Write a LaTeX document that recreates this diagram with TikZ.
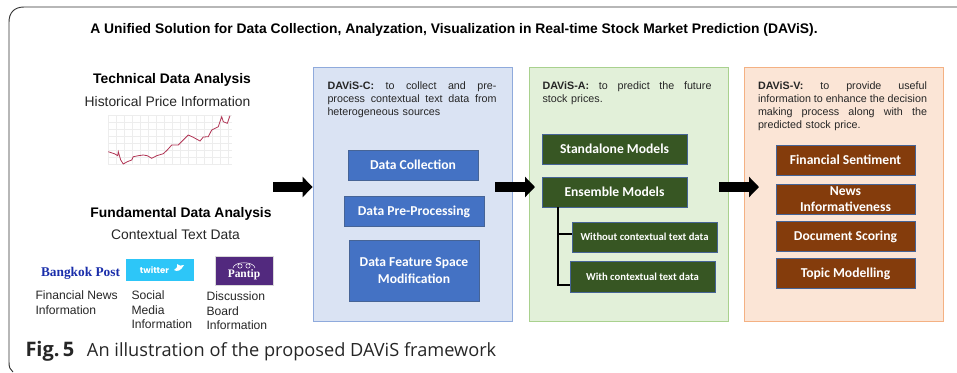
\documentclass[tikz,border=0pt]{standalone}
\usepackage{fontspec}
\setmainfont{Liberation Sans}
\newfontfamily\boxfont{Carlito}
\newfontfamily\capfont{Open Sans}
\newfontfamily\logofont{Liberation Serif}
\newfontfamily\tweetfont{Poppins}
\usetikzlibrary{arrows.meta}

\definecolor{panelCfill}{RGB}{218,227,243}
\definecolor{panelCline}{RGB}{143,170,220}
\definecolor{panelAfill}{RGB}{226,240,217}
\definecolor{panelAline}{RGB}{169,209,142}
\definecolor{panelVfill}{RGB}{251,229,214}
\definecolor{panelVline}{RGB}{244,177,131}
\definecolor{boxblue}{RGB}{68,114,196}
\definecolor{boxgreen}{RGB}{55,86,35}
\definecolor{boxbrown}{RGB}{132,60,12}
\definecolor{boxline}{RGB}{70,100,150}
\definecolor{twitterblue}{RGB}{45,198,248}
\definecolor{pantippurple}{RGB}{82,41,126}
\definecolor{postblue}{RGB}{25,45,170}
\definecolor{chartred}{RGB}{176,52,84}

\newcommand{\jline}[1]{\leavevmode\hbox to 126.75pt{\spaceskip=0pt\xspaceskip=0pt #1}}

\tikzset{every picture/.style={line width=0.75pt}}
\tikzset{
  boxsize/.style 2 args={minimum width=#1*0.75pt,minimum height=#2*0.75pt,inner sep=0pt},
  panel/.style={draw=#1line,fill=#1fill,line width=0.65pt},
  stepbox/.style={draw=boxline,fill=#1,text=white,line width=0.6pt,align=center,text depth=0pt,
    font=\boxfont\bfseries\fontsize{10.2}{12.6}\selectfont},
  smallbox/.style={stepbox=boxgreen,font=\boxfont\bfseries\fontsize{8}{10}\selectfont},
  paneltext/.style={anchor=north west,inner sep=0pt,text width=127pt,align=left,
    text=black!85,font=\fontsize{8.05}{9.75}\selectfont},
  headtext/.style={inner sep=0pt,font=\bfseries\fontsize{10.4}{12}\selectfont},
  subtext/.style={inner sep=0pt,text=black!85,font=\fontsize{10.4}{12}\selectfont},
  sourcetext/.style={anchor=north west,inner sep=0pt,align=left,text=black!85,
    font=\fontsize{9.1}{11.1}\selectfont},
  blockarrow/.style={line width=7.5pt,-{Triangle[length=7.5pt,width=15pt]}},
  branchline/.style={line width=1.4pt,black},
}

\begin{document}
\begin{tikzpicture}[x=0.75pt,y=0.75pt,yscale=-1,xscale=1]
\useasboundingbox (0,0) rectangle (957,372);

%Outer frame
\draw [black!80,line width=0.7pt] (957,7) -- (24,7) .. controls (14,7) and (9,13) .. (9,22) -- (9,362) .. controls (9,367) and (10,370) .. (13,372) ;

% Text Node
\node (title) [inner sep=0pt,font=\bfseries\fontsize{10.4}{12}\selectfont] at (454,30) {A Unified Solution for Data Collection, Analyzation, Visualization in Real-time Stock Market Prediction (DAViS).};

% Text Node
\node (technical) [headtext] at (172,79.5) {Technical Data Analysis};
\node (historical) [subtext] at (167.5,102) {Historical Price Information};
\node (fundamental) [headtext] at (181,213.5) {Fundamental Data Analysis};
\node (contextual) [subtext] at (175.5,235) {Contextual Text Data};

%Price chart
\foreach \gx in {108,116,...,232}
  \draw [black!7,line width=0.3pt] (\gx,115) -- (\gx,164) ;
\foreach \gy in {115,122,...,164}
  \draw [black!7,line width=0.3pt] (108,\gy) -- (232,\gy) ;
\draw [chartred,line width=0.6pt] (108.3,151.7) -- (115,154) -- (117.7,155.7) -- (118.3,151.7) -- (120.7,160) -- (123.3,164) -- (127.3,161.7) -- (131.7,160) -- (133.3,156.7) -- (138.3,155.7) -- (143.3,155) -- (147.3,155.7) -- (151.7,158.3) -- (156.7,155.7) -- (163.3,153.7) -- (167.3,150) -- (171.7,145) -- (178.3,145) -- (183.3,140) -- (188.3,135) -- (193.3,137.3) -- (200,141) -- (203.3,137) -- (208.3,136.7) -- (211.7,130) -- (218.3,126.7) -- (221.7,116.7) -- (223.3,121.7) -- (227.3,123.3) -- (230,115.7) ;

%Source logos
\node (bangkok) [inner sep=0pt,text=postblue,font=\logofont\bfseries\fontsize{10}{12}\selectfont] at (80.5,273) {Bangkok Post};
\node (twitter) [boxsize={68}{22},fill=twitterblue] at (160,270) {};
\node (twitterword) [inner sep=0pt,text=white,font=\tweetfont\bfseries\fontsize{6.4}{8}\selectfont] at (154.5,270) {twitter};
\fill [white] (174,270) .. controls (177,272) and (181,271) .. (184,265) .. controls (181,266) and (179,266) .. (177,264) .. controls (178,268) and (176,268) .. (174,270) -- cycle ;
\node (pantip) [boxsize={58}{29},fill=pantippurple,draw=black!15] at (244,270.5) {};
\node (pantipword) [inner sep=0pt,text=white,font=\logofont\bfseries\fontsize{8.6}{10}\selectfont] at (244,275) {Pantip};
\draw [white,line width=0.4pt] (233,268) .. controls (234,261) and (254,261) .. (255,268) ;
\draw [white,line width=0.4pt] (240,266) circle [radius=2.2] (248,266) circle [radius=2.2] ;

% Text Node
\node (newsinfo) [sourcetext] at (35,290) {Financial News\\Information};
\node (socialinfo) [sourcetext] at (131,290) {Social\\Media\\Information};
\node (boardinfo) [sourcetext] at (206,291) {Discussion\\Board\\Information};

%Panels
\node (panelC) [panel=panelC,boxsize={199}{254}] at (412.5,194) {};
\node (panelA) [panel=panelA,boxsize={199}{254}] at (628.5,194) {};
\node (panelV) [panel=panelV,boxsize={199}{254}] at (843.5,194) {};

% Text Node
\node (textC) [paneltext] at (327,81) {\jline{\textbf{DAViS-C:} to collect and pre-}\\\jline{process contextual text data from}\\heterogeneous sources};
\node (textA) [paneltext] at (542,81) {\jline{\textbf{DAViS-A:} to predict the future}\\stock prices.};
\node (textV) [paneltext] at (757.5,81) {\jline{\textbf{DAViS-V:} to provide useful}\\\jline{information to enhance the decision}\\\jline{making process along with the}\\predicted stock price.};

%DAViS-C boxes
\node (collection) [stepbox=boxblue,boxsize={130}{30}] at (413,165) {Data Collection};
\node (preprocessing) [stepbox=boxblue,boxsize={140}{30}] at (414,211) {Data Pre-Processing};
\node (modification) [stepbox=boxblue,boxsize={130}{61}] at (414,270.5) {Data Feature Space\\Modification};

%DAViS-A boxes
\node (standalone) [stepbox=boxgreen,boxsize={145}{30}] at (614.5,149) {Standalone Models};
\node (ensemble) [stepbox=boxgreen,boxsize={145}{30}] at (614.5,192) {Ensemble Models};
\node (without) [smallbox,boxsize={145}{30}] at (644.5,237) {Without contextual text data};
\node (with) [smallbox,boxsize={145}{31}] at (642.5,276.5) {With contextual text data};

%DAViS-V boxes
\node (sentiment) [stepbox=boxbrown,boxsize={139}{30}] at (845.5,160) {Financial Sentiment};
\node (informativeness) [stepbox=boxbrown,boxsize={139}{30}] at (845.5,199) {News\\Informativeness};
\node (scoring) [stepbox=boxbrown,boxsize={139}{30}] at (845.5,236) {Document Scoring};
\node (topic) [stepbox=boxbrown,boxsize={139}{30}] at (845.5,273) {Topic Modelling};

%Straight Lines
\coordinate (trunk) at (558,207);
\coordinate (withoutpin) at (572,234);
\coordinate (withpin) at (570,285);
\draw [branchline] (trunk) |- (withoutpin) ;
\draw [branchline] (trunk) |- (withpin) ;

%Block arrows
\coordinate (dataout) at (273,187);
\coordinate (collectout) at (495,187);
\coordinate (analysisin) at (535,187);
\coordinate (analysisout) at (719,187);
\coordinate (visualin) at (759,187);
\draw [blockarrow] (dataout) -- (dataout -| panelC.west) ;
\draw [blockarrow] (collectout) -- (analysisin) ;
\draw [blockarrow] (analysisout) -- (visualin) ;

% Text Node
\node (caption) [anchor=west,inner sep=0pt,text=black!85,font=\capfont\fontsize{13.65}{16}\selectfont] at (25,351) {{\fontsize{15}{16}\selectfont\textbf{Fig.\,5}}\hspace{9.5pt}An illustration of the proposed DAViS framework};

\end{tikzpicture}
\end{document}
